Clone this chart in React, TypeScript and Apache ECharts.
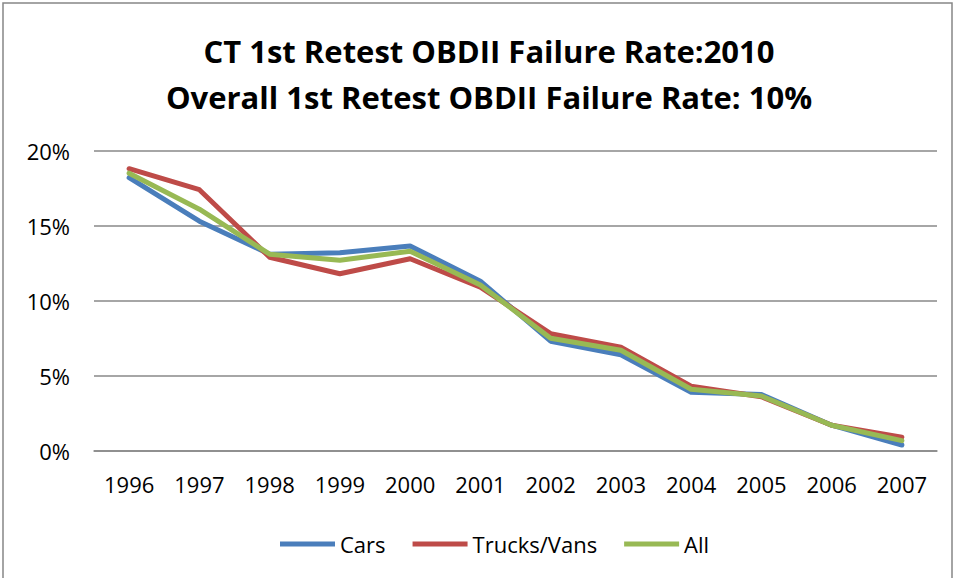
import React, { useEffect, useRef } from "react";
import * as echarts from "echarts";

const categories = ["1996", "1997", "1998", "1999", "2000", "2001", "2002", "2003", "2004", "2005", "2006", "2007"];
const cars = [18.2, 15.3, 13.1, 13.2, 13.65, 11.3, 7.3, 6.4, 3.9, 3.75, 1.7, 0.38];
const trucks = [18.8, 17.4, 12.9, 11.8, 12.8, 10.9, 7.8, 6.9, 4.3, 3.6, 1.7, 0.9];
const all = [18.5, 16.1, 13.1, 12.7, 13.3, 11.05, 7.5, 6.7, 4.1, 3.65, 1.7, 0.67];
const titleText = "CT 1st Retest OBDII Failure Rate:2010\nOverall 1st Retest OBDII Failure Rate: 10%";

const FONT = "'Open Sans', sans-serif";

export default function App() {
  const ref = useRef<HTMLDivElement>(null);
  useEffect(() => {
    if (!ref.current) return;
    const chart = echarts.init(ref.current, undefined, { renderer: "svg" });
    const mk = (name: string, data: number[], color: string) => ({
      name,
      type: "line",
      data,
      symbol: "none",
      lineStyle: { color, width: 5, cap: "round", join: "round" },
      itemStyle: { color },
    });
    chart.setOption({
      animation: false,
      backgroundColor: "#fff",
      textStyle: { fontFamily: FONT },
      title: {
        text: titleText,
        left: 484,
        textAlign: "center",
        top: 23,
        textStyle: { fontFamily: FONT, fontSize: 31, fontWeight: "bold", color: "#000", lineHeight: 46 },
      },
      graphic: [
        {
          type: "rect",
          shape: { x: 3, y: 3, width: 949, height: 580 },
          style: { fill: "none", stroke: "#868686", lineWidth: 1.5 },
          silent: true,
        },
      ],
      legend: {
        data: ["Cars", "Trucks/Vans", "All"],
        top: 528,
        left: 275,
        icon: "rect",
        itemWidth: 55,
        itemHeight: 5,
        itemGap: 27,
        textStyle: { fontFamily: FONT, fontSize: 22, color: "#000" },
      },
      grid: { left: 94, right: 17, top: 150.7, bottom: 127.3, containLabel: false },
      xAxis: {
        type: "category",
        data: categories,
        boundaryGap: true,
        axisLine: { show: true, lineStyle: { color: "#898989", width: 1.5 } },
        axisTick: { show: false },
        axisLabel: { fontFamily: FONT, fontSize: 22, color: "#000", margin: 22 },
      },
      yAxis: {
        type: "value",
        min: 0,
        max: 20,
        interval: 5,
        axisLine: { show: false },
        axisTick: { show: false },
        splitLine: { lineStyle: { color: "#898989", width: 1.5 } },
        axisLabel: { fontFamily: FONT, fontSize: 22, color: "#000", margin: 24, formatter: (v: number) => v + "%" },
      },
      series: [
        mk("Cars", cars, "#4A7EBB"),
        mk("Trucks/Vans", trucks, "#BE4B48"),
        mk("All", all, "#98B954"),
      ],
    });
    return () => chart.dispose();
  }, []);
  return <div ref={ref} style={{ position: "fixed", left: 0, top: 0, width: 954, height: 578 }} />;
}
